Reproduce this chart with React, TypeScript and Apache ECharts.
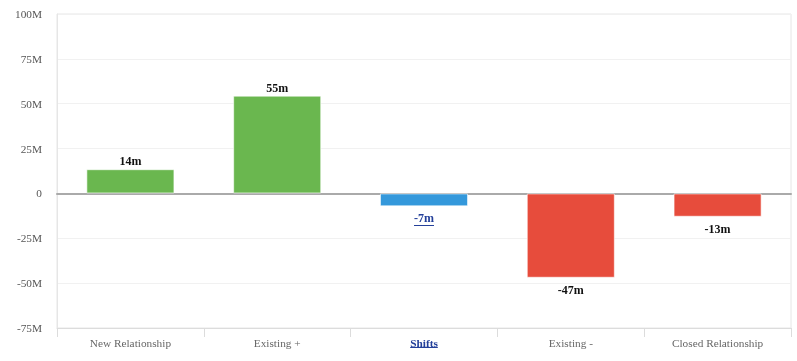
import React, { useEffect, useRef } from "react";
import * as echarts from "echarts";

const categories = ["New Relationship", "Existing +", "Shifts", "Existing -", "Closed Relationship"];
const valuesM = [13.5, 54.5, -7.2, -47, -13];
const barColors = ["#6ab74f", "#6ab74f", "#3498db", "#e74c3c", "#e74c3c"];
const yTicksM = { min: -75, max: 100, interval: 25 };
const linkCategory = "Shifts";

const FONT = "Liberation Serif";
const LINK = "#24409a";

export default function App() {
  const ref = useRef<HTMLDivElement>(null);
  useEffect(() => {
    const chart = echarts.init(ref.current!, null, { renderer: "svg" });
    const option: any = {
      animation: false,
      textStyle: { fontFamily: FONT },
      grid: { left: 57, right: 6, top: 14, bottom: 33, show: true, borderColor: "#e6e6e6", borderWidth: 1 },
      xAxis: [
        {
          type: "category",
          data: categories,
          position: "bottom",
          axisLine: { onZero: false, lineStyle: { color: "#dcdcdc", width: 1 } },
          axisTick: { show: true, length: 9, lineStyle: { color: "#dcdcdc" } },
          axisLabel: {
            fontFamily: FONT,
            fontSize: 11.3,
            color: "#666",
            margin: 9,
            formatter: (v: string) => (v === linkCategory ? "{l|" + v + "}" : v),
            rich: { l: { color: LINK, fontWeight: "bold", fontFamily: FONT, fontSize: 11.3 } },
          },
        },
        {
          type: "category",
          data: categories,
          position: "top",
          axisLine: { onZero: true, lineStyle: { color: "#aaaaaa", width: 2 } },
          axisTick: { show: false },
          axisLabel: { show: false },
          splitLine: { show: false },
        },
      ],
      yAxis: {
        type: "value",
        min: yTicksM.min,
        max: yTicksM.max,
        interval: yTicksM.interval,
        axisLine: { show: true, lineStyle: { color: "#e6e6e6" } },
        axisTick: { show: false },
        splitLine: { lineStyle: { color: "#f1f1f1" } },
        axisLabel: {
          fontFamily: FONT,
          fontSize: 11.3,
          color: "#555",
          margin: 15,
          formatter: (v: number) => (v === 0 ? "0" : v + "M"),
        },
      },
      series: [
        {
          type: "bar",
          barWidth: "60%",
          data: valuesM.map((v, i) => ({
            value: v,
            itemStyle: { color: barColors[i], borderColor: "rgba(255,255,255,0.6)", borderWidth: 1 },
            label: {
              show: true,
              position: v >= 0 ? "top" : "bottom",
              distance: v >= 0 ? 2 : 6,
              fontFamily: FONT,
              fontSize: 12,
              fontWeight: "bold",
              color: categories[i] === linkCategory ? LINK : "#111",
              formatter: () => Math.round(v) + "m",
            },
          })),
        },
      ],
    };
    chart.setOption(option);

    const idx = categories.indexOf(linkCategory);
    const cx = chart.convertToPixel({ xAxisIndex: 0 }, linkCategory) as number;
    const barEnd = chart.convertToPixel({ yAxisIndex: 0 }, valuesM[idx]) as number;
    const axisY = chart.convertToPixel({ yAxisIndex: 0 }, yTicksM.min) as number;
    const labelText = Math.round(valuesM[idx]) + "m";
    const fmt = (echarts as any).format;
    const lw = fmt && fmt.getTextRect ? fmt.getTextRect(labelText, "bold 12px " + FONT).width : 20;
    const cw = fmt && fmt.getTextRect ? fmt.getTextRect(linkCategory, "bold 11.3px " + FONT).width : 28;
    const ly = Math.round(barEnd + 19) + 0.5;
    const cy = Math.round(axisY + 19) + 0.5;
    chart.setOption({
      graphic: [
        { type: "line", shape: { x1: cx - lw / 2, y1: ly, x2: cx + lw / 2, y2: ly }, style: { stroke: LINK, lineWidth: 1 } },
        { type: "line", shape: { x1: cx - cw / 2, y1: cy, x2: cx + cw / 2, y2: cy }, style: { stroke: LINK, lineWidth: 1 } },
      ],
    });
    return () => chart.dispose();
  }, []);
  return <div ref={ref} style={{ position: "fixed", left: 0, top: 0, width: 797, height: 361 }} />;
}
